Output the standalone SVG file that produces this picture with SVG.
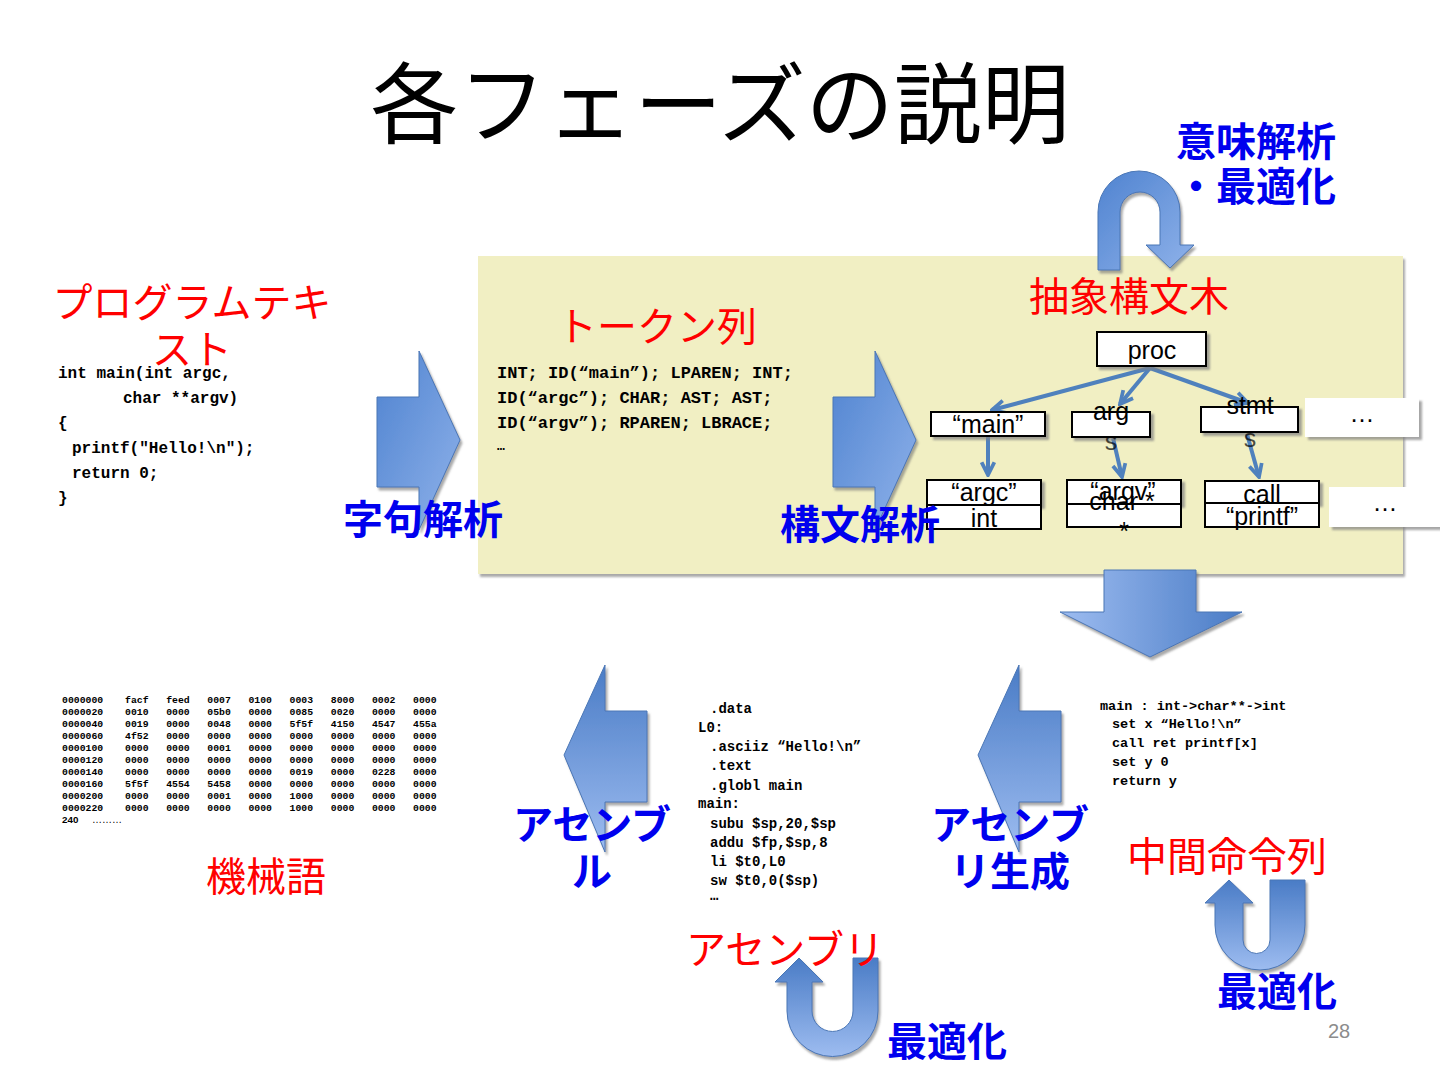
<svg xmlns="http://www.w3.org/2000/svg" width="1440" height="1080" viewBox="0 0 1440 1080">
<style>
.title{font-family:"Noto Sans CJK JP","Noto Sans",sans-serif;font-size:88px;fill:#000}
.red{font-family:"Noto Sans CJK JP","Noto Sans",sans-serif;font-size:40px;fill:#ff0000}
.blue{font-family:"Noto Sans CJK JP","Noto Sans",sans-serif;font-size:40px;font-weight:bold;fill:#0000ee}
.code{font-family:"Liberation Mono","DejaVu Sans Mono",monospace;font-weight:bold;fill:#000}
.pre{white-space:pre}
.tree{font-family:"Liberation Sans",Arial,sans-serif;font-size:25px;fill:#000;text-anchor:middle}
.box{fill:#fff;stroke:#000;stroke-width:2}
.conn{stroke:#4f81bd;stroke-width:4;fill:none;marker-end:url(#chev)}
.barrow{stroke:#4a76b5;stroke-width:1}
</style>
<defs>
<linearGradient id="gv" x1="0" y1="0" x2="0" y2="1">
<stop offset="0" stop-color="#4a7cc6"/><stop offset="1" stop-color="#9dbcf0"/>
</linearGradient>
<linearGradient id="gh" x1="0" y1="0" x2="1" y2="0">
<stop offset="0" stop-color="#9dbcf0"/><stop offset="1" stop-color="#4a7cc6"/>
</linearGradient>
<linearGradient id="gr" x1="0" y1="0" x2="1" y2="1">
<stop offset="0" stop-color="#4f83d0"/><stop offset="1" stop-color="#8fb2ea"/>
</linearGradient>
<filter id="sh" x="-20%" y="-20%" width="150%" height="150%">
<feDropShadow dx="2" dy="3" stdDeviation="1" flood-color="#707070" flood-opacity="0.6"/>
</filter>
<filter id="bsh" x="-20%" y="-20%" width="150%" height="150%">
<feDropShadow dx="3" dy="3" stdDeviation="1" flood-color="#808080" flood-opacity="0.7"/>
</filter>
<marker id="chev" viewBox="0 0 16 16" refX="14" refY="8" markerWidth="17" markerHeight="17" markerUnits="userSpaceOnUse" orient="auto">
<path d="M2,2 L14,8 L2,14" fill="none" stroke="#4f81bd" stroke-width="3.5"/>
</marker>
</defs>
<rect width="1440" height="1080" fill="#fff"/>

<g id="panel"><rect x="478" y="256" width="925" height="318" fill="#f1efc3" filter="url(#sh)"/></g>

<g id="title"><text class="title" x="720" y="136" text-anchor="middle">各フェーズの説明</text></g>

<g id="connectors">
<path class="barrow" d="M377,397 L419,397 L419,351 L460,440 L419,530 L419,487 L377,487 Z" fill="url(#gr)" filter="url(#sh)"/>
<path class="barrow" d="M833,397 L875,397 L875,351 L916,440 L875,530 L875,487 L833,487 Z" fill="url(#gr)" filter="url(#sh)"/>
<path class="barrow" d="M1104,570 L1196,570 L1196,612 L1242,612 L1150,657 L1060,612 L1104,612 Z" fill="url(#gh)" filter="url(#sh)"/>
<path class="barrow" d="M1061,711 L1019,711 L1019,665 L978,755 L1019,852 L1019,802 L1061,802 Z" fill="url(#gv)" filter="url(#sh)"/>
<path class="barrow" d="M647,711 L605,711 L605,665 L564,755 L605,852 L605,802 L647,802 Z" fill="url(#gv)" filter="url(#sh)"/>
<path class="barrow" d="M1098,270 L1098,212 A41,41 0 0 1 1180,212 L1180,245 L1194,245 L1170,268 L1146,245 L1160,245 L1160,212 A20,20 0 0 0 1120,212 L1120,270 Z" fill="url(#gr)" filter="url(#sh)"/>
<path class="barrow" d="M878,958 L878,1011 A45.5,45.5 0 0 1 787,1011 L787,982 L775,982 L799,958 L823,982 L812,982 L812,1011 A20.5,20.5 0 0 0 853,1011 L853,958 Z" fill="url(#gv)" filter="url(#sh)"/>
<path class="barrow" d="M1305,880 L1305,925 A45,45 0 0 1 1215,925 L1215,903 L1205,903 L1229,880 L1253,903 L1243,903 L1243,940 A13.5,13.5 0 0 0 1270,940 L1270,880 Z" fill="url(#gv)" filter="url(#sh)"/>
</g>

<g id="source-code">
<text class="code" font-size="16" x="58" y="378">int main(int argc,</text>
<text class="code" font-size="16" x="123" y="403">char **argv)</text>
<text class="code" font-size="16" x="58" y="428">{</text>
<text class="code" font-size="16" x="72" y="453">printf("Hello!\n");</text>
<text class="code" font-size="16" x="72" y="478">return 0;</text>
<text class="code" font-size="16" x="58" y="503">}</text>
</g>

<g id="tokens">
<text class="code" font-size="17" x="497" y="378">INT; ID(“main”); LPAREN; INT;</text>
<text class="code" font-size="17" x="497" y="403">ID(“argc”); CHAR; AST; AST;</text>
<text class="code" font-size="17" x="497" y="428">ID(“argv”); RPAREN; LBRACE;</text>
<text class="code" font-size="13" x="497" y="450">…</text>
</g>

<g id="tree-edges">
<line class="conn" x1="1150" y1="368" x2="992" y2="410"/>
<line class="conn" x1="1150" y1="368" x2="1120" y2="404"/>
<line class="conn" x1="1150" y1="368" x2="1248" y2="403"/>
<line class="conn" x1="988" y1="437" x2="988" y2="475"/>
<line class="conn" x1="1113" y1="438" x2="1122" y2="477"/>
<line class="conn" x1="1247" y1="434" x2="1259" y2="477"/>
</g>

<g id="node-proc"><rect class="box" x="1097" y="332" width="109" height="34" filter="url(#bsh)"/><text class="tree" x="1152" y="359">proc</text></g>
<g id="node-main"><rect class="box" x="931" y="412" width="114" height="24" filter="url(#bsh)"/><text class="tree" x="988" y="433">“main”</text></g>
<g id="node-args"><rect class="box" x="1072" y="412" width="78" height="25" filter="url(#bsh)"/><text class="tree" x="1111" y="420">arg</text><text class="tree" x="1111" y="450" fill-opacity="0.7">s</text></g>
<g id="node-stmts"><rect class="box" x="1201" y="407" width="97" height="25" filter="url(#bsh)"/><text class="tree" x="1250" y="414">stmt</text><text class="tree" x="1250" y="447" fill-opacity="0.7">s</text></g>
<g id="node-more1"><rect x="1305" y="398" width="114" height="39" fill="#fff" filter="url(#bsh)"/><text class="tree" x="1362" y="422" font-size="20">…</text></g>
<g id="node-argc"><rect class="box" x="927" y="480" width="114" height="25" filter="url(#bsh)"/><rect class="box" x="927" y="505" width="114" height="24"/><text class="tree" x="984" y="501">“argc”</text><text class="tree" x="984" y="527">int</text></g>
<g id="node-argv"><rect class="box" x="1067" y="480" width="114" height="24" filter="url(#bsh)"/><rect class="box" x="1067" y="504" width="114" height="23"/><text class="tree" x="1123" y="500">“argv”</text><text class="tree" x="1122" y="510">char *</text><text class="tree" x="1124" y="540">*</text></g>
<g id="node-call"><rect class="box" x="1205" y="481" width="114" height="22" filter="url(#bsh)"/><rect class="box" x="1205" y="503" width="114" height="24"/><text class="tree" x="1262" y="503">call</text><text class="tree" x="1262" y="525">“printf”</text></g>
<g id="node-more2"><rect x="1329" y="487" width="115" height="40" fill="#fff" filter="url(#bsh)"/><text class="tree" x="1385" y="511" font-size="20">…</text></g>

<g id="machine-code" class="code" font-size="9.8">
<text x="62" y="703">0000000</text><text class="pre" xml:space="preserve" x="125" y="703">facf   feed   0007   0100   0003   8000   0002   0000</text>
<text x="62" y="715">0000020</text><text class="pre" xml:space="preserve" x="125" y="715">0010   0000   05b0   0000   0085   0020   0000   0000</text>
<text x="62" y="727">0000040</text><text class="pre" xml:space="preserve" x="125" y="727">0019   0000   0048   0000   5f5f   4150   4547   455a</text>
<text x="62" y="739">0000060</text><text class="pre" xml:space="preserve" x="125" y="739">4f52   0000   0000   0000   0000   0000   0000   0000</text>
<text x="62" y="751">0000100</text><text class="pre" xml:space="preserve" x="125" y="751">0000   0000   0001   0000   0000   0000   0000   0000</text>
<text x="62" y="763">0000120</text><text class="pre" xml:space="preserve" x="125" y="763">0000   0000   0000   0000   0000   0000   0000   0000</text>
<text x="62" y="775">0000140</text><text class="pre" xml:space="preserve" x="125" y="775">0000   0000   0000   0000   0019   0000   0228   0000</text>
<text x="62" y="787">0000160</text><text class="pre" xml:space="preserve" x="125" y="787">5f5f   4554   5458   0000   0000   0000   0000   0000</text>
<text x="62" y="799">0000200</text><text class="pre" xml:space="preserve" x="125" y="799">0000   0000   0001   0000   1000   0000   0000   0000</text>
<text x="62" y="811">0000220</text><text class="pre" xml:space="preserve" x="125" y="811">0000   0000   0000   0000   1000   0000   0000   0000</text>
<text x="62" y="823" font-family="Liberation Sans, sans-serif">240</text><text x="92" y="823" font-weight="normal" font-family="Liberation Sans, sans-serif" font-size="10">………</text>
</g>

<g id="assembly-code" class="code" font-size="14">
<text x="710" y="713">.data</text>
<text x="698" y="732">L0:</text>
<text x="710" y="751">.asciiz “Hello!\n”</text>
<text x="710" y="770">.text</text>
<text x="710" y="790">.globl main</text>
<text x="698" y="808">main:</text>
<text x="710" y="828">subu $sp,20,$sp</text>
<text x="710" y="847">addu $fp,$sp,8</text>
<text x="710" y="866">li  $t0,L0</text>
<text x="710" y="885">sw  $t0,0($sp)</text>
<text x="710" y="900">…</text>
</g>

<g id="ir-code" class="code" font-size="13.5">
<text x="1100" y="710">main : int->char**->int</text>
<text x="1112" y="728">set x “Hello!\n”</text>
<text x="1112" y="747">call ret printf[x]</text>
<text x="1112" y="766">set y 0</text>
<text x="1112" y="785">return y</text>
</g>

<g id="label-program-text"><text class="red" x="192" y="317" text-anchor="middle">プログラムテキ</text><text class="red" x="192" y="364" text-anchor="middle">スト</text></g>
<g id="label-tokens"><text class="red" x="657" y="341" text-anchor="middle">トークン列</text></g>
<g id="label-ast"><text class="red" x="1129" y="311" text-anchor="middle">抽象構文木</text></g>
<g id="label-semantic"><text class="blue" x="1336" y="156" text-anchor="end">意味解析</text><text class="blue" x="1336" y="201" text-anchor="end">・最適化</text></g>
<g id="label-lexical"><text class="blue" x="423" y="534" text-anchor="middle">字句解析</text></g>
<g id="label-parse"><text class="blue" x="860" y="539" text-anchor="middle">構文解析</text></g>
<g id="label-assemble"><text class="blue" x="592" y="839" text-anchor="middle">アセンブ</text><text class="blue" x="592" y="886" text-anchor="middle">ル</text></g>
<g id="label-asmgen"><text class="blue" x="1010" y="839" text-anchor="middle">アセンブ</text><text class="blue" x="1010" y="886" text-anchor="middle">リ生成</text></g>
<g id="label-ir"><text class="red" x="1227" y="871" text-anchor="middle">中間命令列</text></g>
<g id="label-machine"><text class="red" x="266" y="891" text-anchor="middle">機械語</text></g>
<g id="label-assembly"><text class="red" x="785" y="964" text-anchor="middle">アセンブリ</text></g>
<g id="label-opt1"><text class="blue" x="947" y="1056" text-anchor="middle">最適化</text></g>
<g id="label-opt2"><text class="blue" x="1277" y="1006" text-anchor="middle">最適化</text></g>
<g id="page-number"><text x="1339" y="1038" text-anchor="middle" font-family="Liberation Sans, sans-serif" font-size="20" fill="#8c8c8c">28</text></g>
</svg>
